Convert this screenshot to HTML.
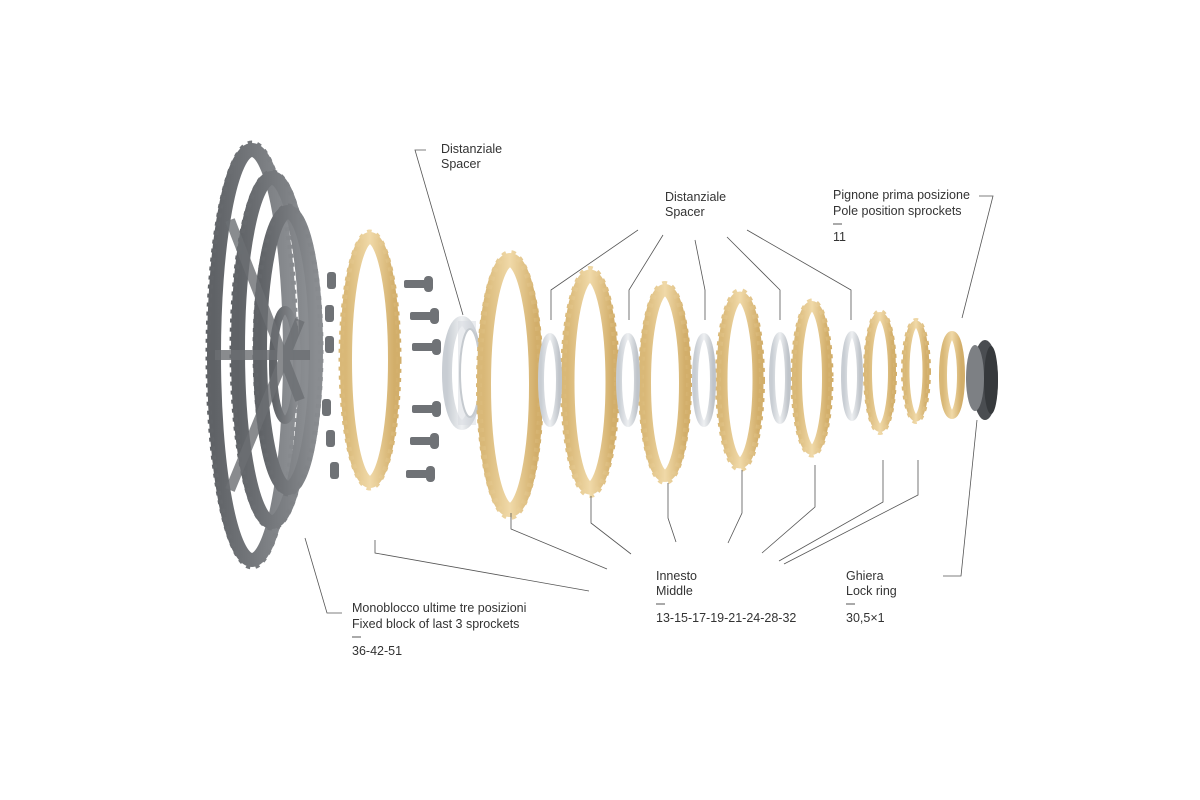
<!DOCTYPE html>
<html><head><meta charset="utf-8"><style>
html,body{margin:0;padding:0;background:#fff;}
svg{display:block}
text{font-family:"Liberation Sans",sans-serif;font-size:12.5px;fill:#333;}
</style></head><body>
<svg width="1200" height="800" viewBox="0 0 1200 800">
<defs>
<linearGradient id="gold" x1="0" x2="1"><stop offset="0" stop-color="#d9b877"/><stop offset="0.5" stop-color="#f0d9a8"/><stop offset="1" stop-color="#d2ae6a"/></linearGradient>
<linearGradient id="silver" x1="0" x2="1"><stop offset="0" stop-color="#c8cdd3"/><stop offset="0.5" stop-color="#eef0f2"/><stop offset="1" stop-color="#bfc4ca"/></linearGradient>
<linearGradient id="gray" x1="0" x2="1"><stop offset="0" stop-color="#5f6266"/><stop offset="1" stop-color="#8a8d91"/></linearGradient>
</defs>

<!-- big gray block -->
<g fill="none" stroke="url(#gray)">
<ellipse cx="252" cy="355" rx="38" ry="205" stroke-width="14"/>
<ellipse cx="252" cy="355" rx="44" ry="212" stroke-width="5" stroke-dasharray="4 5"/>
<ellipse cx="272" cy="350" rx="34" ry="172" stroke-width="14"/>
<ellipse cx="272" cy="350" rx="40" ry="178" stroke-width="5" stroke-dasharray="4 5"/>
<ellipse cx="288" cy="350" rx="28" ry="138" stroke-width="14"/>
<ellipse cx="288" cy="350" rx="33" ry="144" stroke-width="5" stroke-dasharray="4 5"/>
<ellipse cx="285" cy="365" rx="12" ry="55" stroke-width="8"/>
</g>
<g stroke="#6c6f73" stroke-width="10" fill="none" opacity="0.8">
<line x1="230" y1="220" x2="300" y2="400"/><line x1="230" y1="490" x2="300" y2="320"/>
<line x1="215" y1="355" x2="310" y2="355"/>
</g>

<!-- nuts -->
<g fill="#6f7276">
<rect x="327" y="272" width="9" height="17" rx="3"/><rect x="325" y="305" width="9" height="17" rx="3"/><rect x="325" y="336" width="9" height="17" rx="3"/>
<rect x="322" y="399" width="9" height="17" rx="3"/><rect x="326" y="430" width="9" height="17" rx="3"/><rect x="330" y="462" width="9" height="17" rx="3"/>
</g>
<!-- bolts -->
<g fill="#6f7276">
<rect x="404" y="280" width="22" height="8" rx="2"/><rect x="424" y="276" width="9" height="16" rx="4"/>
<rect x="410" y="312" width="22" height="8" rx="2"/><rect x="430" y="308" width="9" height="16" rx="4"/>
<rect x="412" y="343" width="22" height="8" rx="2"/><rect x="432" y="339" width="9" height="16" rx="4"/>
<rect x="412" y="405" width="22" height="8" rx="2"/><rect x="432" y="401" width="9" height="16" rx="4"/>
<rect x="410" y="437" width="22" height="8" rx="2"/><rect x="430" y="433" width="9" height="16" rx="4"/>
<rect x="406" y="470" width="22" height="8" rx="2"/><rect x="426" y="466" width="9" height="16" rx="4"/>
</g>

<!-- big spacer -->
<ellipse cx="462" cy="373" rx="15" ry="52" fill="none" stroke="url(#silver)" stroke-width="10"/>
<rect x="458" y="321" width="18" height="104" fill="#d6dadf" opacity="0.5"/>
<ellipse cx="470" cy="373" rx="10" ry="44" fill="#fff" stroke="#c5cacf" stroke-width="2"/>

<!-- gold sprockets -->
<g fill="none" stroke="url(#gold)">
<ellipse cx="370" cy="360" rx="24" ry="122" stroke-width="12"/>
<ellipse cx="370" cy="360" rx="29" ry="128" stroke-width="5" stroke-dasharray="4 5"/>
<ellipse cx="510" cy="385" rx="26" ry="125" stroke-width="14"/>
<ellipse cx="510" cy="385" rx="31" ry="132" stroke-width="6" stroke-dasharray="4 5"/>
<ellipse cx="590" cy="382" rx="22" ry="106" stroke-width="13"/>
<ellipse cx="590" cy="382" rx="27" ry="113" stroke-width="6" stroke-dasharray="4 5"/>
<ellipse cx="665" cy="383" rx="20" ry="93" stroke-width="12"/>
<ellipse cx="665" cy="383" rx="24" ry="99" stroke-width="6" stroke-dasharray="4 5"/>
<ellipse cx="740" cy="380" rx="18" ry="83" stroke-width="11"/>
<ellipse cx="740" cy="380" rx="22" ry="89" stroke-width="6" stroke-dasharray="4 5"/>
<ellipse cx="812" cy="378" rx="15" ry="72" stroke-width="10"/>
<ellipse cx="812" cy="378" rx="19" ry="77" stroke-width="5" stroke-dasharray="4 5"/>
<ellipse cx="880" cy="372" rx="12" ry="56" stroke-width="8"/>
<ellipse cx="880" cy="372" rx="15" ry="61" stroke-width="4" stroke-dasharray="4 5"/>
<ellipse cx="916" cy="371" rx="10" ry="47" stroke-width="7"/>
<ellipse cx="916" cy="371" rx="13" ry="51" stroke-width="4" stroke-dasharray="4 5"/>
<ellipse cx="952" cy="375" rx="9" ry="40" stroke-width="8"/>
</g>

<!-- silver spacers -->
<g fill="none" stroke="url(#silver)" stroke-width="6">
<ellipse cx="550" cy="380" rx="9" ry="44"/>
<ellipse cx="628" cy="380" rx="9" ry="44"/>
<ellipse cx="704" cy="380" rx="9" ry="44"/>
<ellipse cx="780" cy="378" rx="8" ry="43"/>
<ellipse cx="852" cy="376" rx="8" ry="42"/>
</g>

<!-- lock ring -->
<ellipse cx="985" cy="380" rx="13" ry="40" fill="#4a4d51"/>
<ellipse cx="975" cy="378" rx="9" ry="33" fill="#7d8084"/>
<ellipse cx="991" cy="380" rx="7" ry="34" fill="#36393c"/>

<!-- leader lines -->
<g fill="none" stroke="#555" stroke-width="0.8">
<polyline points="426,150 415,150 463,315"/>
<polyline points="638,230 551,290 551,320"/>
<polyline points="663,235 629,290 629,320"/>
<polyline points="695,240 705,290 705,320"/>
<polyline points="727,237 780,290 780,320"/>
<polyline points="747,230 851,290 851,320"/>
<polyline points="979,196 993,196 962,318"/>
<polyline points="305,538 327,613 342,613"/>
<polyline points="375,540 375,553 589,591"/>
<polyline points="511,513 511,529 607,569"/>
<polyline points="591,496 591,523 631,554"/>
<polyline points="668,483 668,518 676,542"/>
<polyline points="742,470 742,513 728,543"/>
<polyline points="815,465 815,507 762,553"/>
<polyline points="883,460 883,502 779,561"/>
<polyline points="918,460 918,495 784,564"/>
<polyline points="977,420 961,576 943,576"/>
</g>

<!-- labels -->
<text x="441" y="153">Distanziale</text><text x="441" y="168">Spacer</text>
<text x="665" y="201">Distanziale</text><text x="665" y="216">Spacer</text>
<text x="833" y="199">Pignone prima posizione</text><text x="833" y="215">Pole position sprockets</text>
<line x1="833" y1="224" x2="842" y2="224" stroke="#555" stroke-width="1"/>
<text x="833" y="241">11</text>
<text x="352" y="612">Monoblocco ultime tre posizioni</text><text x="352" y="628">Fixed block of last 3 sprockets</text>
<line x1="352" y1="637" x2="361" y2="637" stroke="#555" stroke-width="1"/>
<text x="352" y="655">36-42-51</text>
<text x="656" y="580">Innesto</text><text x="656" y="595">Middle</text>
<line x1="656" y1="604" x2="665" y2="604" stroke="#555" stroke-width="1"/>
<text x="656" y="622">13-15-17-19-21-24-28-32</text>
<text x="846" y="580">Ghiera</text><text x="846" y="595">Lock ring</text>
<line x1="846" y1="604" x2="855" y2="604" stroke="#555" stroke-width="1"/>
<text x="846" y="622">30,5×1</text>
</svg>
</body></html>
